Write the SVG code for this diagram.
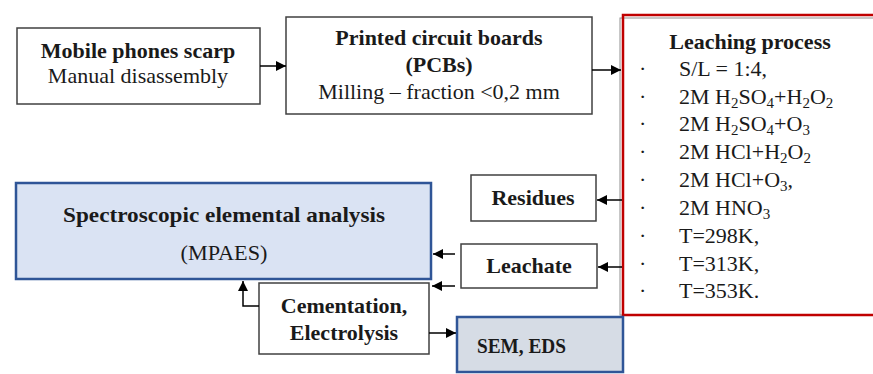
<svg xmlns="http://www.w3.org/2000/svg" width="873" height="374" viewBox="0 0 873 374">
<style>
.box{fill:#fff;stroke:#404040;stroke-width:1.5}
.blue{stroke:#2f5597;stroke-width:2.5}
.t{font-family:"Liberation Serif","Times New Roman",serif;font-size:22px;fill:#1a1a1a}
.b{font-weight:bold}
.c{text-anchor:middle}
.ln{fill:none;stroke:#000;stroke-width:1.5}
</style>
<defs>
<marker id="ah" viewBox="0 0 10 10" refX="10" refY="5" markerWidth="10" markerHeight="10" markerUnits="userSpaceOnUse" orient="auto">
<path d="M0,0 L10,5 L0,10 z" fill="#000"/>
</marker>
</defs>
<rect width="873" height="374" fill="#fff"/>

<g id="mobile">
<rect class="box" x="17" y="28" width="243" height="76"/>
<text class="t b c" x="138" y="58">Mobile phones scarp</text>
<text class="t c" x="138" y="83">Manual disassembly</text>
</g>

<g id="pcb">
<rect class="box" x="286" y="17" width="306" height="97"/>
<text class="t b c" x="439" y="45">Printed circuit boards</text>
<text class="t b c" x="439" y="72">(PCBs)</text>
<text class="t c" x="439" y="99">Milling – fraction &lt;0,2 mm</text>
</g>

<g id="leaching">
<rect x="620" y="18" width="270" height="297" fill="#fff" stroke="#909090" stroke-width="1"/>
<rect x="623" y="15" width="270" height="300" fill="none" stroke="#c00000" stroke-width="2.5"/>
<text class="t b c" x="750" y="49">Leaching process</text>
<g class="t">
<text x="639" y="76">·</text><text x="679" y="76">S/L = 1:4,</text>
<text x="639" y="104">·</text><text x="679" y="104">2M H<tspan dy="4" font-size="15">2</tspan><tspan dy="-4">SO</tspan><tspan dy="4" font-size="15">4</tspan><tspan dy="-4">+H</tspan><tspan dy="4" font-size="15">2</tspan><tspan dy="-4">O</tspan><tspan dy="4" font-size="15">2</tspan></text>
<text x="639" y="131">·</text><text x="679" y="131">2M H<tspan dy="4" font-size="15">2</tspan><tspan dy="-4">SO</tspan><tspan dy="4" font-size="15">4</tspan><tspan dy="-4">+O</tspan><tspan dy="4" font-size="15">3</tspan></text>
<text x="639" y="159">·</text><text x="679" y="159">2M HCl+H<tspan dy="4" font-size="15">2</tspan><tspan dy="-4">O</tspan><tspan dy="4" font-size="15">2</tspan></text>
<text x="639" y="187">·</text><text x="679" y="187">2M HCl+O<tspan dy="4" font-size="15">3</tspan><tspan dy="-4">,</tspan></text>
<text x="639" y="215">·</text><text x="679" y="215">2M HNO<tspan dy="4" font-size="15">3</tspan></text>
<text x="639" y="243">·</text><text x="679" y="243">T=298K,</text>
<text x="639" y="271">·</text><text x="679" y="271">T=313K,</text>
<text x="639" y="298">·</text><text x="679" y="298">T=353K.</text>
</g>
</g>

<g id="residues">
<rect class="box" x="471" y="175" width="125" height="46"/>
<text class="t b c" x="533" y="205">Residues</text>
</g>

<g id="leachate">
<rect class="box" x="461" y="244" width="136" height="44"/>
<text class="t b c" x="529" y="273">Leachate</text>
</g>

<g id="spectro">
<rect class="blue" x="16" y="183" width="415" height="96" fill="#dae3f3"/>
<text class="t b c" x="224" y="222" textLength="322" lengthAdjust="spacingAndGlyphs">Spectroscopic elemental analysis</text>
<text class="t c" x="224" y="260" font-size="20" textLength="87" lengthAdjust="spacingAndGlyphs">(MPAES)</text>
</g>

<g id="cementation">
<rect class="box" x="259" y="283" width="170" height="71"/>
<text class="t b c" x="344" y="313">Cementation,</text>
<text class="t b c" x="344" y="340">Electrolysis</text>
</g>

<g id="sem">
<rect class="blue" x="457" y="317" width="166" height="55" fill="#d6dce5"/>
<text class="t b" x="477" y="353" font-size="20" textLength="89" lengthAdjust="spacingAndGlyphs">SEM, EDS</text>
</g>

<g id="connectors">
<line class="ln" x1="260" y1="66" x2="286" y2="66" marker-end="url(#ah)"/>
<line class="ln" x1="592" y1="70" x2="621" y2="70" marker-end="url(#ah)"/>
<line class="ln" x1="622" y1="200" x2="597" y2="200" marker-end="url(#ah)"/>
<line class="ln" x1="622" y1="267" x2="598" y2="267" marker-end="url(#ah)"/>
<line class="ln" x1="455" y1="254" x2="433" y2="254" marker-end="url(#ah)"/>
<line class="ln" x1="455" y1="286" x2="432" y2="286" marker-end="url(#ah)"/>
<polyline class="ln" points="259,306 243,306 243,281" marker-end="url(#ah)"/>
<line class="ln" x1="429" y1="333" x2="456" y2="333" marker-end="url(#ah)"/>
</g>
</svg>
